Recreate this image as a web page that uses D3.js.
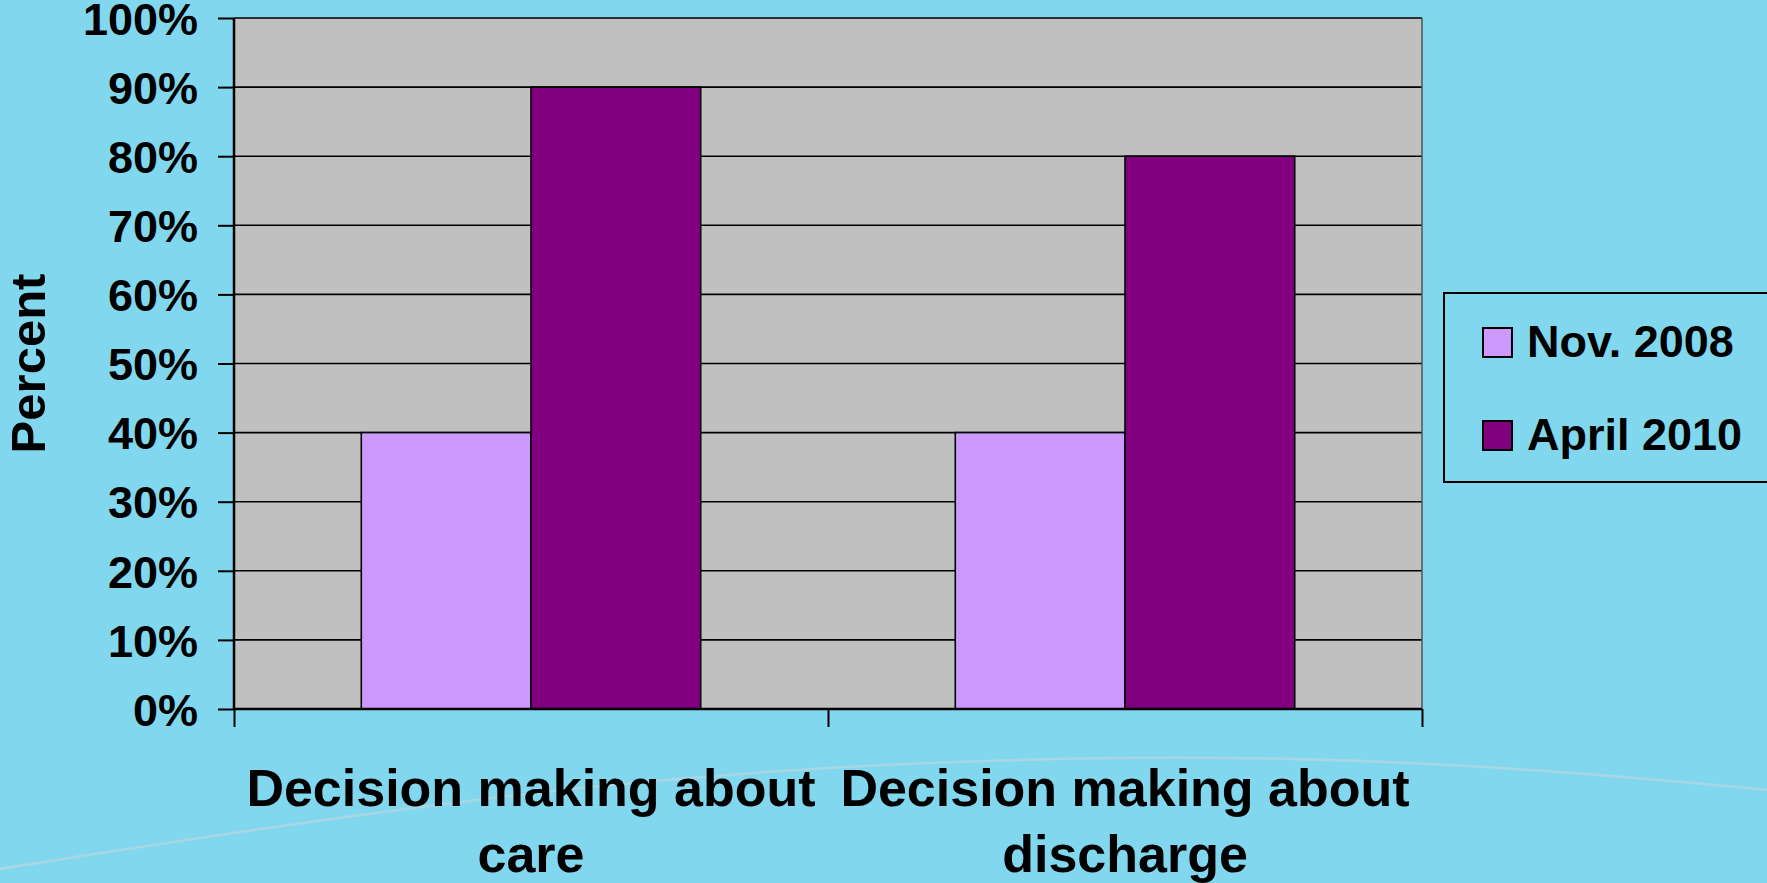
<!DOCTYPE html>
<html>
<head>
<meta charset="utf-8">
<script src="https://cdn.jsdelivr.net/npm/d3@7"></script>
<style>
  html, body { margin: 0; padding: 0; background: #81D8EE; overflow: hidden; }
  svg { display: block; }
  text { font-family: "Liberation Sans", Arial, sans-serif; font-weight: bold; fill: #000; }
</style>
</head>
<body>
<svg id="chart" width="1767" height="883"></svg>
<script>
const categories = [["Decision making about", "care"], ["Decision making about", "discharge"]];
const seriesNames = ["Nov. 2008", "April 2010"];
const nov2008 = [40, 40];
const april2010 = [90, 80];
const yTicks = [0, 10, 20, 30, 40, 50, 60, 70, 80, 90, 100];
const seriesColors = ["#CC99FF", "#800080"];

const W = 1767, H = 883;
const margin = { left: 234, right: 1422, top: 18, bottom: 709 };
const svg = d3.select("#chart");

// background decorative arc
svg.append("rect").attr("width", W).attr("height", H).attr("fill", "#81D8EE");
svg.append("path")
  .attr("d", d3.line().curve(d3.curveBasis)([[-20, 872], [600, 775], [1150, 752], [1500, 765], [1790, 792]]))
  .attr("fill", "none").attr("stroke", "#B4D6E0").attr("stroke-width", 2.5).attr("opacity", 0.8);

const catIdx = categories.map((d, i) => i);
const x0 = d3.scaleBand().domain(catIdx).range([margin.left, margin.right]).padding(0);
const x1 = d3.scaleBand().domain(seriesNames).range([0, x0.bandwidth()]).paddingInner(0).paddingOuter(0.75);
const y = d3.scaleLinear().domain([0, 100]).range([margin.bottom, margin.top]);

// plot background
svg.append("rect")
  .attr("x", margin.left).attr("y", margin.top)
  .attr("width", margin.right - margin.left).attr("height", margin.bottom - margin.top)
  .attr("fill", "#C0C0C0");

// gridlines
svg.append("g").selectAll("line").data(yTicks.filter(t => t > 0)).join("line")
  .attr("x1", margin.left).attr("x2", margin.right)
  .attr("y1", d => y(d)).attr("y2", d => y(d))
  .attr("stroke", "#000").attr("stroke-width", 1.6);

// right border
svg.append("line").attr("x1", margin.right).attr("x2", margin.right)
  .attr("y1", margin.top).attr("y2", margin.bottom).attr("stroke", "#555").attr("stroke-width", 1.5);

// bars
const seriesData = [nov2008, april2010];
seriesData.forEach((vals, si) => {
  svg.append("g").selectAll("rect").data(vals).join("rect")
    .attr("x", (d, i) => x0(i) + x1(seriesNames[si]))
    .attr("width", x1.bandwidth())
    .attr("y", d => y(d))
    .attr("height", d => y(0) - y(d))
    .attr("fill", seriesColors[si])
    .attr("stroke", "#000").attr("stroke-width", 1.6);
});

// y axis
const yAxis = d3.axisLeft(y).tickValues(yTicks).tickFormat(d => d + "%").tickSize(16).tickPadding(20);
const gy = svg.append("g").attr("transform", `translate(${margin.left},0)`).call(yAxis);
gy.select(".domain").attr("stroke", "#000").attr("stroke-width", 2.5).attr("d", `M0,${margin.top}V${margin.bottom}`);
gy.selectAll(".tick line").attr("stroke", "#000").attr("stroke-width", 2);
gy.selectAll(".tick text").style("font-size", "45px").style("font-family", '"Liberation Sans", Arial, sans-serif')
  .style("font-weight", "bold").attr("fill", "#000").attr("dy", "0.36em");

// x axis
const xTickScale = d3.scaleLinear().domain([0, categories.length]).range([margin.left, margin.right]);
const gx = svg.append("g").attr("transform", `translate(0,${margin.bottom})`)
  .call(d3.axisBottom(xTickScale).tickValues(d3.range(categories.length + 1)).tickFormat("").tickSize(18));
gx.select(".domain").attr("stroke", "#000").attr("stroke-width", 2.5).attr("d", `M${margin.left},0H${margin.right}`);
gx.selectAll(".tick line").attr("stroke", "#000").attr("stroke-width", 2);

// category labels
const catG = svg.append("g");
categories.forEach((lines, i) => {
  const t = catG.append("text")
    .attr("x", x0(i) + x0.bandwidth() / 2)
    .attr("y", 806)
    .attr("text-anchor", "middle")
    .style("font-size", "52px");
  lines.forEach((ln, j) => {
    t.append("tspan").attr("x", x0(i) + x0.bandwidth() / 2).attr("dy", j === 0 ? 0 : 66).text(ln);
  });
});

// y axis title
svg.append("text")
  .attr("transform", `translate(45,${(margin.top + margin.bottom) / 2}) rotate(-90)`)
  .attr("text-anchor", "middle")
  .style("font-size", "49px")
  .text("Percent");

// legend
const lg = svg.append("g");
lg.append("rect").attr("x", 1444).attr("y", 293).attr("width", 400).attr("height", 189)
  .attr("fill", "none").attr("stroke", "#000").attr("stroke-width", 2);
const rowY = [342, 435];
seriesNames.forEach((name, i) => {
  lg.append("rect").attr("x", 1483).attr("y", rowY[i] - 14).attr("width", 29).attr("height", 29)
    .attr("fill", seriesColors[i]).attr("stroke", "#000").attr("stroke-width", 2);
  lg.append("text").attr("x", 1527).attr("y", rowY[i] + 15)
    .style("font-size", "45px").text(name);
});
</script>
</body>
</html>
